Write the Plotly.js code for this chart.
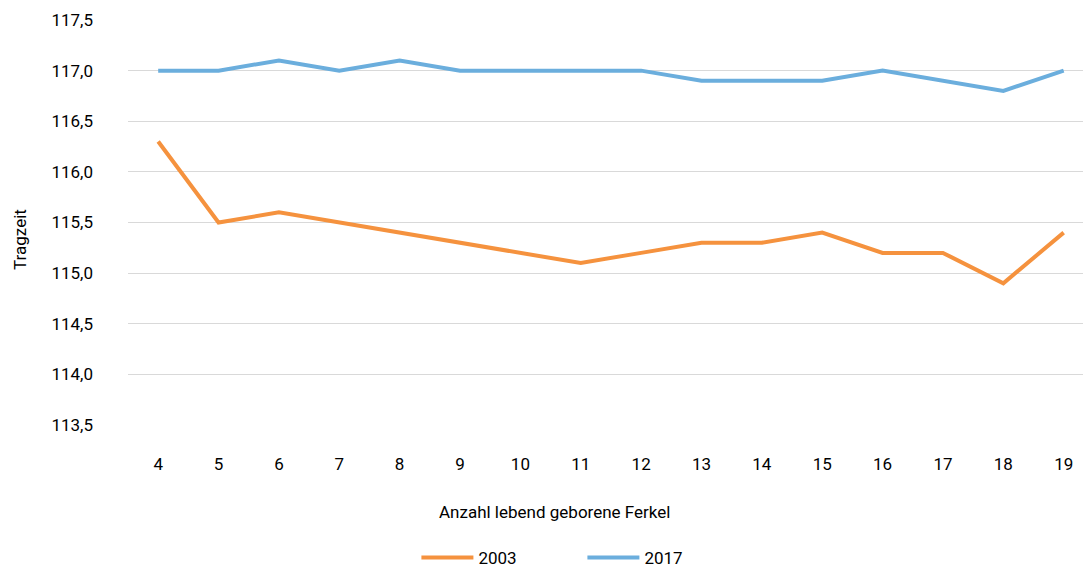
<!DOCTYPE html>
<html><head><meta charset="utf-8">
<script src="https://cdn.plot.ly/plotly-3.0.1.min.js"></script>
<style>html,body{margin:0;padding:0;background:#fff}#c{width:1083px;height:567px}</style>
</head><body><div id="c"></div>
<script>
const categories = ["4","5","6","7","8","9","10","11","12","13","14","15","16","17","18","19"];
const values2003 = [116.3,115.5,115.6,115.5,115.4,115.3,115.2,115.1,115.2,115.3,115.3,115.4,115.2,115.2,114.9,115.4];
const values2017 = [117.0,117.0,117.1,117.0,117.1,117.0,117.0,117.0,117.0,116.9,116.9,116.9,117.0,116.9,116.8,117.0];
const yTicks = [113.5,114.0,114.5,115.0,115.5,116.0,116.5,117.0,117.5];
const yTickLabels = ["113,5","114,0","114,5","115,0","115,5","116,0","116,5","117,0","117,5"];

const FONT = "Roboto, sans-serif";
const FS = 17;
const traces = [
  {x: categories, y: values2003, name: "2003", type: "scatter", mode: "lines",
   line: {color: "#F5923E", width: 4}},
  {x: categories, y: values2017, name: "2017", type: "scatter", mode: "lines",
   line: {color: "#6BAEDD", width: 4}}
];
const layout = {
  width: 1083, height: 567,
  margin: {l: 128, r: 0, t: 20, b: 142, autoexpand: false},
  paper_bgcolor: "#fff", plot_bgcolor: "#fff",
  font: {family: FONT, size: FS, color: "#000"},
  showlegend: true,
  legend: {orientation: "h", xref: "paper", x: 0.302, xanchor: "left",
           yref: "container", y: 0.016, yanchor: "middle", itemwidth: 52,
           font: {family: FONT, size: FS, color: "#000"}, entrywidth: 99, entrywidthmode: "pixels"},
  xaxis: {type: "category", range: [-0.5, 15.32], showgrid: false, zeroline: false,
          showline: false, ticks: "", ticklabelstandoff: 27, tickfont: {family: FONT, size: FS}},
  yaxis: {range: [113.5, 117.5], tickvals: yTicks, ticktext: yTickLabels,
          showgrid: true, gridcolor: "#D9D9D9", gridwidth: 1, zeroline: false, showline: false,
          ticks: "", ticklabelstandoff: 34, tickfont: {family: FONT, size: FS}},
  annotations: [
    {text: "Tragzeit", xref: "paper", yref: "paper", x: 0, y: 0.457, xanchor: "center", yanchor: "middle",
     textangle: -90, showarrow: false, font: {family: FONT, size: FS}, xshift: -108},
    {text: "Anzahl lebend geborene Ferkel", xref: "paper", yref: "paper", x: 0.447, y: -0.215,
     xanchor: "center", yanchor: "middle", showarrow: false, font: {family: FONT, size: FS}}
  ]
};
Plotly.newPlot("c", traces, layout, {displayModeBar: false, staticPlot: true});
</script></body></html>
